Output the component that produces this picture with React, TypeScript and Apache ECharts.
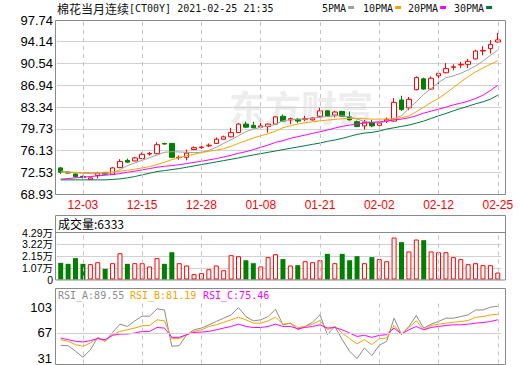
import React, { useEffect, useRef } from 'react';
import * as echarts from 'echarts';

const CATEGORIES = [
  '11-30', '12-01', '12-02', '12-03', '12-04', '12-07', '12-08', '12-09', '12-10', '12-11',
  '12-14', '12-15', '12-16', '12-17', '12-18', '12-21', '12-22', '12-23', '12-24', '12-28',
  '12-29', '12-30', '12-31', '01-04', '01-05', '01-06', '01-07', '01-08', '01-11', '01-12',
  '01-13', '01-14', '01-15', '01-18', '01-19', '01-21', '01-22', '01-25', '01-26', '01-27',
  '01-28', '01-29', '02-01', '02-02', '02-03', '02-04', '02-05', '02-08', '02-09', '02-10',
  '02-11', '02-12', '02-16', '02-17', '02-18', '02-19', '02-22', '02-23', '02-24', '02-25',
];
const LABEL_DATES = ['12-03', '12-15', '12-28', '01-08', '01-21', '02-02', '02-12', '02-25'];

const OPEN = [
  73.25, 72.55, 72.25, 71.85, 71.35, 72.0, 72.45, 72.2, 73.3, 74.5,
  74.4, 74.8, 75.55, 75.6, 77.3, 77.3, 74.95, 75.0, 76.3, 76.6,
  76.9, 77.3, 78.0, 78.4, 79.1, 80.5, 80.3, 80.0, 80.1, 80.5,
  81.8, 81.2, 81.3, 81.3, 81.2, 81.8, 82.7, 82.0, 82.6, 81.7,
  80.9, 80.2, 80.8, 80.3, 81.0, 81.0, 84.5, 83.2, 86.2, 88.0,
  86.3, 88.5, 89.0, 89.9, 90.3, 90.4, 91.3, 92.6, 93.0, 94.1,
];
const CLOSE = [
  72.55, 72.4, 71.8, 71.7, 71.6, 72.4, 72.2, 73.25, 74.3, 74.2,
  74.9, 75.5, 75.65, 77.1, 77.2, 75.0, 75.0, 75.7, 76.6, 76.7,
  77.0, 78.0, 78.4, 79.1, 80.5, 80.0, 79.9, 80.2, 80.5, 81.7,
  81.0, 81.4, 81.0, 81.4, 81.5, 82.7, 81.8, 82.5, 81.8, 81.2,
  80.1, 80.8, 80.2, 80.7, 81.3, 84.1, 82.9, 84.6, 88.2, 86.3,
  88.1, 88.9, 89.7, 90.0, 90.4, 90.9, 92.6, 92.7, 93.7, 94.45,
];
const LOW = [
  72.25, 72.3, 71.7, 71.5, 71.3, 71.5, 72.1, 72.1, 73.2, 74.1,
  74.35, 74.7, 75.3, 75.5, 77.1, 74.9, 74.6, 74.5, 76.2, 76.4,
  76.7, 77.2, 77.9, 78.3, 79.0, 79.9, 79.8, 79.7, 79.1, 80.4,
  80.9, 80.5, 80.7, 81.0, 81.1, 81.7, 81.7, 81.6, 81.7, 81.1,
  80.0, 79.6, 80.0, 79.7, 80.7, 80.9, 82.7, 82.8, 86.1, 86.2,
  86.2, 87.1, 88.9, 89.4, 89.8, 89.8, 91.2, 91.9, 92.2, 94.0,
];
const HIGH = [
  73.4, 72.7, 72.3, 72.0, 71.7, 72.6, 72.5, 73.4, 74.7, 74.8,
  75.1, 75.8, 75.9, 77.5, 77.4, 77.3, 75.3, 76.3, 76.8, 77.0,
  77.3, 78.3, 78.6, 79.9, 80.7, 80.9, 80.9, 80.7, 80.6, 81.8,
  82.1, 81.6, 81.5, 81.9, 81.6, 83.2, 82.8, 82.7, 82.7, 82.6,
  81.1, 81.2, 81.2, 81.0, 81.6, 84.8, 85.2, 85.0, 88.4, 88.2,
  88.4, 89.2, 90.6, 90.4, 90.8, 91.3, 92.8, 93.4, 94.4, 95.6,
];

const VOLUME = [
  15200, 14300, 19500, 14300, 14000, 15800, 9700, 14900, 24000, 14300,
  14900, 14900, 11900, 19500, 14300, 24900, 14900, 12800, 4900, 5800,
  9400, 12800, 8500, 22200, 21300, 17600, 14900, 11900, 20400, 23100,
  18600, 12800, 13100, 16700, 15800, 17600, 23400, 14900, 23400, 17600,
  21300, 14900, 20400, 18600, 16700, 38300, 34100, 25600, 36500, 35900,
  25600, 24900, 24900, 20400, 18600, 14000, 14900, 13100, 13100, 6333,
];

const MA5 = [
  72.75, 72.59, 72.42, 72.37, 72.31, 72.26, 72.26, 72.42, 72.97, 73.63,
  74.07, 74.51, 74.95, 75.39, 75.83, 75.94, 75.89, 75.83, 75.78, 75.83,
  76.16, 76.66, 77.32, 77.92, 78.58, 79.24, 79.68, 79.96, 80.18, 80.45,
  81.06, 81.22, 81.33, 81.33, 81.5, 81.61, 81.77, 81.88, 81.88, 81.71,
  81.33, 80.94, 80.78, 80.67, 81.0, 81.44, 81.88, 83.09, 84.19, 85.45,
  86.39, 87.38, 88.2, 88.48, 88.92, 89.47, 90.13, 90.95, 91.89, 92.77,
];
const MA10 = [
  72.53, 72.53, 72.53, 72.48, 72.48, 72.48, 72.53, 72.59, 72.7, 72.86,
  73.03, 73.25, 73.47, 73.8, 74.18, 74.62, 74.95, 75.28, 75.5, 75.78,
  76.0, 76.16, 76.44, 76.82, 77.32, 77.76, 78.2, 78.58, 78.91, 79.35,
  79.9, 80.23, 80.51, 80.73, 80.89, 81.06, 81.17, 81.28, 81.39, 81.44,
  81.44, 81.39, 81.33, 81.33, 81.33, 81.39, 81.55, 81.88, 82.54, 83.31,
  84.08, 84.74, 85.62, 86.55, 87.49, 88.37, 89.14, 89.8, 90.4, 91.0,
];
const MA20 = [
  71.38, 71.49, 71.6, 71.71, 71.82, 71.93, 72.04, 72.15, 72.31, 72.53,
  72.7, 72.92, 73.14, 73.36, 73.52, 73.63, 73.8, 73.96, 74.18, 74.35,
  74.57, 74.79, 75.06, 75.34, 75.67, 75.94, 76.27, 76.66, 77.04, 77.48,
  77.76, 78.14, 78.42, 78.69, 78.97, 79.24, 79.52, 79.85, 80.12, 80.34,
  80.51, 80.67, 80.78, 80.89, 81.0, 81.22, 81.33, 81.55, 81.88, 82.32,
  82.65, 82.98, 83.31, 83.69, 83.97, 84.3, 84.74, 85.29, 86.06, 86.94,
];
const MA30 = [
  71.27, 71.27, 71.27, 71.27, 71.27, 71.27, 71.27, 71.33, 71.44, 71.6,
  71.82, 72.1, 72.37, 72.64, 72.81, 72.97, 73.14, 73.36, 73.58, 73.8,
  74.02, 74.24, 74.46, 74.68, 74.9, 75.17, 75.39, 75.61, 75.83, 76.05,
  76.27, 76.49, 76.71, 76.93, 77.15, 77.37, 77.65, 77.87, 78.14, 78.47,
  78.8, 79.02, 79.13, 79.35, 79.68, 79.9, 80.12, 80.34, 80.67, 81.0,
  81.44, 81.88, 82.26, 82.7, 83.09, 83.47, 83.86, 84.19, 84.63, 85.29,
];

const RSI_A = [
  48.8, 48.5, 42.6, 36.4, 44.0, 57.1, 53.0, 62.3, 70.9, 68.5,
  74.3, 79.2, 79.2, 86.8, 85.7, 47.8, 48.5, 59.9, 65.0, 66.8,
  70.2, 73.7, 77.1, 80.6, 88.1, 78.8, 74.3, 75.4, 78.8, 86.4,
  70.2, 71.9, 65.0, 68.5, 73.0, 80.6, 59.9, 68.5, 54.7, 42.6,
  35.0, 46.1, 38.1, 48.8, 53.0, 77.1, 59.9, 68.5, 79.9, 66.8,
  70.9, 73.7, 77.1, 77.1, 78.8, 80.6, 85.7, 85.7, 88.5, 89.55,
];
const RSI_B = [
  54.7, 53.0, 49.5, 47.8, 51.2, 56.4, 53.0, 59.9, 63.3, 65.0,
  66.8, 69.2, 69.5, 75.4, 74.3, 55.7, 55.7, 59.9, 63.3, 65.0,
  68.5, 70.2, 72.9, 75.4, 78.1, 75.4, 71.9, 71.9, 74.3, 78.1,
  70.9, 71.9, 67.4, 68.5, 70.9, 74.7, 65.0, 68.5, 61.6, 55.7,
  50.2, 54.7, 49.5, 55.7, 56.4, 69.5, 60.6, 67.4, 74.3, 65.0,
  69.5, 70.9, 71.9, 72.9, 73.6, 74.7, 78.1, 78.8, 80.5, 81.19,
];
const RSI_C = [
  56.4, 54.7, 53.0, 52.3, 53.7, 55.7, 54.7, 59.2, 60.6, 60.6,
  61.6, 63.3, 63.3, 67.4, 66.8, 57.1, 57.1, 59.9, 62.3, 62.6,
  63.3, 65.0, 66.8, 68.5, 70.9, 68.5, 67.4, 67.4, 68.5, 70.9,
  68.5, 68.5, 66.1, 67.4, 68.5, 70.2, 66.8, 67.4, 65.0, 61.6,
  58.1, 59.2, 57.1, 59.2, 59.9, 66.8, 60.6, 65.0, 68.5, 65.0,
  67.4, 68.5, 69.5, 70.2, 70.2, 70.9, 71.9, 72.6, 73.6, 75.46,
];

const PRICE_TICKS = ['68.93', '72.53', '76.13', '79.73', '83.34', '86.94', '90.54', '94.14', '97.74'];
const VOLUME_TICKS = ['0', '1.07万', '2.15万', '3.22万', '4.29万'];
const RSI_TICKS = [31, 67, 103];

const PRICE_MIN = 68.93;
const PRICE_MAX = 97.74;
const PRICE_STEP = 3.60125;
const VOL_MAX = 42900;
const VOL_STEP = 10725;

const RED = '#ff0000';
const GREEN = '#008000';
const C_MA5 = '#a0a0a0';
const C_MA10 = '#f5a300';
const C_MA20 = '#ff00ff';
const C_MA30 = '#007a3d';
const FRAME = '#8a8a8a';
const MONO = '"DejaVu Sans Mono", "Liberation Mono", monospace';
const CJK = '"Noto Sans CJK SC", sans-serif';
const SANS = '"Liberation Sans", Arial, "Noto Sans CJK SC", sans-serif';

export default function App() {
  const ref = useRef<HTMLDivElement>(null);
  useEffect(() => {
    document.body.style.margin = '0';
    const chart = echarts.init(ref.current!, null, { renderer: 'svg' });
    const vline = (dates: string[]) => ({
      silent: true,
      symbol: ['none', 'none'],
      label: { show: false },
      lineStyle: { type: [4, 4], color: '#c4c4c4', width: 1 },
      emphasis: { disabled: true },
      data: dates.map((d) => ({ xAxis: d })),
    });
    const maLine = (name: string, data: number[], color: string) => ({
      name,
      type: 'line',
      xAxisIndex: 0,
      yAxisIndex: 0,
      data,
      symbol: 'none',
      lineStyle: { color, width: 1 },
      silent: true,
    });
    const rsiLine = (name: string, data: number[], color: string, extra: any = {}) => ({
      name,
      type: 'line',
      xAxisIndex: 2,
      yAxisIndex: 4,
      data,
      symbol: 'none',
      lineStyle: { color, width: 1 },
      silent: true,
      ...extra,
    });
    const frame = (y: number, h: number) => ({
      type: 'rect',
      shape: { x: 55.5, y: y + 0.5, width: 450, height: h },
      style: { fill: 'none', stroke: FRAME, lineWidth: 1 },
      z: 50,
      silent: true,
    });
    const volLabelAxis = (values: number[]) => ({
      type: 'value',
      gridIndex: 1,
      min: 0,
      max: VOL_MAX,
      position: 'left',
      axisLine: { show: false },
      axisTick: { show: false, customValues: values },
      splitLine: { show: false },
      axisLabel: {
        customValues: values,
        formatter: (v: number) => VOLUME_TICKS[Math.round(v / VOL_STEP)],
        color: '#000',
        fontSize: 10.5,
        fontFamily: SANS,
        margin: 4,
      },
    });
    const legendItems = [
      { t: '5PMA', x: 322, c: C_MA5 },
      { t: '10PMA', x: 363, c: C_MA10 },
      { t: '20PMA', x: 408, c: C_MA20 },
      { t: '30PMA', x: 454, c: C_MA30 },
    ];
    const legendGraphics: any[] = [];
    legendItems.forEach((it) => {
      legendGraphics.push({
        type: 'text',
        x: it.x,
        y: 8,
        style: { text: it.t, font: `10px ${MONO}`, fill: '#111', verticalAlign: 'middle' },
        z: 60,
      });
      legendGraphics.push({
        type: 'rect',
        shape: { x: it.x + it.t.length * 6.02 + 2, y: 6, width: 6, height: 3 },
        style: { fill: it.c },
        z: 60,
      });
    });

    const option: any = {
      animation: false,
      backgroundColor: '#fff',
      grid: [
        { left: 57, top: 20, width: 444.5, height: 174 },
        { left: 57, top: 232.5, width: 444.5, height: 47 },
        { left: 57, top: 300, width: 444.5, height: 64 },
      ],
      xAxis: [
        {
          type: 'category',
          gridIndex: 0,
          data: CATEGORIES,
          boundaryGap: true,
          axisLine: { show: false },
          axisTick: { show: false },
          splitLine: { show: false },
          axisLabel: {
            interval: (i: number) => i % 8 === 3,
            color: RED,
            fontSize: 12,
            fontFamily: SANS,
            margin: 5,
          },
        },
        { type: 'category', gridIndex: 1, data: CATEGORIES, boundaryGap: true, show: false },
        { type: 'category', gridIndex: 2, data: CATEGORIES, boundaryGap: true, show: false },
      ],
      yAxis: [
        {
          type: 'value',
          gridIndex: 0,
          min: PRICE_MIN,
          max: PRICE_MAX,
          interval: PRICE_STEP,
          axisLine: { show: false },
          axisTick: { show: false },
          splitLine: { lineStyle: { color: '#d2d2d2', width: 1 } },
          axisLabel: {
            formatter: (v: number) => PRICE_TICKS[Math.round((v - PRICE_MIN) / PRICE_STEP)],
            showMinLabel: true,
            showMaxLabel: true,
            color: '#000',
            fontSize: 13,
            fontFamily: SANS,
            margin: 4,
          },
        },
        {
          type: 'value',
          gridIndex: 1,
          min: 0,
          max: VOL_MAX,
          interval: VOL_STEP,
          position: 'left',
          axisLine: { show: false },
          axisTick: { show: false },
          axisLabel: { show: false },
          splitLine: { lineStyle: { color: '#d2d2d2', width: 1 } },
        },
        volLabelAxis([0, VOL_STEP * 2, VOL_MAX]),
        volLabelAxis([VOL_STEP, VOL_STEP * 3]),
        {
          type: 'value',
          gridIndex: 2,
          min: 29.86,
          max: 96.07,
          position: 'right',
          show: false,
          splitLine: { show: false },
        },
        {
          type: 'value',
          gridIndex: 2,
          min: 24,
          max: 113.2,
          position: 'left',
          axisLine: { show: false },
          axisTick: { show: false, customValues: RSI_TICKS },
          splitLine: { show: false },
          axisLabel: {
            customValues: RSI_TICKS,
            color: '#000',
            fontSize: 13,
            fontFamily: SANS,
            margin: 5,
          },
        },
      ],
      series: [
        {
          name: 'K',
          type: 'candlestick',
          xAxisIndex: 0,
          yAxisIndex: 0,
          barWidth: 5,
          silent: true,
          data: OPEN.map((o, i) => [o, CLOSE[i], LOW[i], HIGH[i]]),
          itemStyle: {
            color: '#ffffff',
            color0: GREEN,
            borderColor: RED,
            borderColor0: GREEN,
            borderWidth: 1,
          },
          markLine: vline(LABEL_DATES),
        },
        maLine('5PMA', MA5, C_MA5),
        maLine('10PMA', MA10, C_MA10),
        maLine('20PMA', MA20, C_MA20),
        maLine('30PMA', MA30, C_MA30),
        {
          name: '成交量',
          type: 'bar',
          xAxisIndex: 1,
          yAxisIndex: 1,
          barWidth: 5,
          silent: true,
          data: VOLUME.map((v, i) => ({
            value: v,
            itemStyle:
              CLOSE[i] >= OPEN[i]
                ? { color: '#ffffff', borderColor: RED, borderWidth: 1 }
                : { color: GREEN, borderColor: GREEN, borderWidth: 0 },
          })),
          markLine: vline(LABEL_DATES),
        },
        rsiLine('RSI_A', RSI_A, '#8c8c8c', { markLine: vline(LABEL_DATES) }),
        rsiLine('RSI_B', RSI_B, '#f5a300'),
        rsiLine('RSI_C', RSI_C, '#ff00ff'),
        {
          name: 'rsiGrid',
          type: 'line',
          xAxisIndex: 2,
          yAxisIndex: 5,
          data: [],
          silent: true,
          markLine: {
            silent: true,
            symbol: ['none', 'none'],
            label: { show: false },
            lineStyle: { type: 'solid', color: '#d2d2d2', width: 1 },
            data: [{ yAxis: RSI_TICKS[1] }],
          },
        },
      ],
      graphic: [
        {
          type: 'text',
          x: 229,
          y: 106,
          style: {
            text: '东方财富',
            font: `bold 36px ${CJK}`,
            fill: '#ededed',
            verticalAlign: 'middle',
          },
          z: 0,
          silent: true,
        },
        frame(20, 174),
        frame(215, 64.5),
        frame(288, 76),
        {
          type: 'line',
          shape: { x1: 55.5, y1: 232.5, x2: 505.5, y2: 232.5 },
          style: { stroke: FRAME, lineWidth: 1 },
          z: 50,
          silent: true,
        },
        {
          type: 'text',
          x: 57,
          y: 8,
          style: {
            text: '{a|棉花当月连续}{b|[CT00Y] 2021-02-25 21:35}',
            verticalAlign: 'middle',
            rich: {
              a: { fontFamily: CJK, fontSize: 12, fill: '#111', color: '#111' },
              b: { fontFamily: MONO, fontSize: 10, fill: '#111', color: '#111' },
            },
          },
          z: 60,
        },
        ...legendGraphics,
        {
          type: 'text',
          x: 58,
          y: 223.5,
          style: { text: '成交量:6333', font: `12px ${CJK}`, fill: '#000', verticalAlign: 'middle' },
          z: 60,
        },
        {
          type: 'text',
          x: 58,
          y: 295,
          style: { text: 'RSI_A:89.55', font: `10px ${MONO}`, fill: '#8c8c8c', verticalAlign: 'middle' },
          z: 60,
        },
        {
          type: 'text',
          x: 130,
          y: 295,
          style: { text: 'RSI_B:81.19', font: `10px ${MONO}`, fill: '#f5a300', verticalAlign: 'middle' },
          z: 60,
        },
        {
          type: 'text',
          x: 203,
          y: 295,
          style: { text: 'RSI_C:75.46', font: `10px ${MONO}`, fill: '#ff00ff', verticalAlign: 'middle' },
          z: 60,
        },
      ],
    };
    chart.setOption(option);
    return () => chart.dispose();
  }, []);
  return <div ref={ref} style={{ width: 520, height: 365 }} />;
}
